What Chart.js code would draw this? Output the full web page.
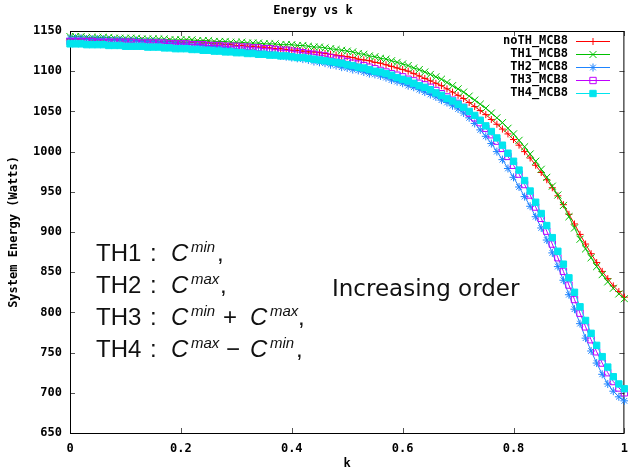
<!DOCTYPE html>
<html>
<head>
<meta charset="utf-8">
<script src="https://cdn.jsdelivr.net/npm/chart.js@4.4.1/dist/chart.umd.min.js"></script>
<style>
  html, body { margin: 0; padding: 0; background: #fff; }
  #wrap { width: 628px; height: 470px; }
</style>
</head>
<body>
<div id="wrap"><canvas id="chart" width="628" height="470"></canvas></div>
<script>
// k values (x axis)
const kValues = [0,0.01,0.02,0.03,0.04,0.05,0.06,0.07,0.08,0.09,
  0.1,0.11,0.12,0.13,0.14,0.15,0.16,0.17,0.18,0.19,
  0.2,0.21,0.22,0.23,0.24,0.25,0.26,0.27,0.28,0.29,
  0.3,0.31,0.32,0.33,0.34,0.35,0.36,0.37,0.38,0.39,
  0.4,0.41,0.42,0.43,0.44,0.45,0.46,0.47,0.48,0.49,
  0.5,0.51,0.52,0.53,0.54,0.55,0.56,0.57,0.58,0.59,
  0.6,0.61,0.62,0.63,0.64,0.65,0.66,0.67,0.68,0.69,
  0.7,0.71,0.72,0.73,0.74,0.75,0.76,0.77,0.78,0.79,
  0.8,0.81,0.82,0.83,0.84,0.85,0.86,0.87,0.88,0.89,
  0.9,0.91,0.92,0.93,0.94,0.95,0.96,0.97,0.98,0.99,1];

// system energy (Watts) per series
const noTH = [1140,1140,1140,1140,1139,1139,1139,1139,1139,1138,
  1138,1138,1138,1138,1137,1137,1137,1137,1137,1136,
  1136,1136,1136,1135,1135,1135,1134,1134,1133,1133,
  1132,1132,1131,1131,1130,1130,1129,1128,1128,1127,
  1126,1126,1125,1124,1124,1123,1122,1121,1120,1119,
  1118,1117,1115,1114,1113,1111,1110,1108,1106,1104,
  1102,1100,1097,1094,1091,1088,1085,1082,1078,1074,
  1070,1066,1061,1056,1051,1046,1040,1034,1028,1022,
  1015,1008,1000,992,983,974,965,955,945,934,
  922,910,897,885,873,862,851,842,833,826,819];
const th1 = [1143,1143,1143,1142,1142,1142,1142,1142,1141,1141,
  1141,1141,1141,1140,1140,1140,1140,1140,1139,1139,
  1139,1139,1139,1138,1138,1138,1137,1137,1137,1136,
  1136,1136,1135,1135,1135,1134,1134,1134,1133,1133,
  1133,1132,1132,1131,1130,1130,1129,1128,1127,1126,
  1125,1124,1122,1121,1119,1118,1116,1115,1113,1111,
  1109,1107,1104,1102,1099,1096,1093,1090,1086,1082,
  1078,1074,1069,1064,1059,1054,1048,1042,1036,1029,
  1022,1014,1006,997,988,978,968,957,946,933,
  919,905,891,879,868,857,847,838,830,823,817];
const th2 = [1141,1141,1141,1140,1140,1140,1140,1139,1139,1139,
  1138,1138,1138,1137,1137,1137,1136,1136,1135,1135,
  1134,1134,1133,1133,1132,1131,1131,1130,1129,1128,
  1127,1126,1126,1125,1124,1123,1122,1121,1119,1118,
  1117,1116,1115,1114,1112,1111,1110,1108,1107,1105,
  1104,1102,1101,1099,1097,1096,1094,1092,1089,1087,
  1085,1082,1080,1077,1074,1071,1068,1064,1061,1057,
  1053,1048,1042,1035,1027,1019,1010,1000,990,979,
  968,956,944,932,919,905,890,874,857,840,
  822,804,786,768,752,737,723,711,702,695,690];
const th3 = [1137,1137,1137,1137,1137,1136,1136,1136,1136,1136,
  1136,1136,1135,1135,1135,1135,1135,1135,1134,1134,
  1134,1134,1133,1133,1133,1132,1132,1132,1131,1131,
  1131,1130,1130,1129,1129,1128,1128,1127,1126,1126,
  1125,1124,1123,1122,1121,1120,1119,1117,1115,1114,
  1112,1110,1109,1107,1105,1103,1101,1099,1097,1095,
  1093,1090,1088,1085,1083,1080,1076,1072,1068,1064,
  1060,1055,1048,1042,1036,1029,1021,1013,1004,994,
  983,972,959,946,931,917,901,885,868,851,
  834,816,799,782,766,751,737,725,714,706,700];
const th4 = [1134,1134,1134,1133,1133,1133,1133,1132,1132,1132,
  1131,1131,1131,1131,1130,1130,1130,1129,1129,1128,
  1128,1128,1127,1127,1126,1126,1125,1125,1124,1124,
  1123,1123,1122,1122,1121,1121,1120,1120,1119,1119,
  1118,1117,1117,1116,1115,1114,1113,1112,1111,1110,
  1108,1107,1105,1104,1102,1100,1099,1097,1095,1092,
  1090,1088,1085,1082,1080,1077,1073,1070,1066,1063,
  1059,1055,1050,1045,1039,1032,1025,1017,1008,998,
  988,977,964,951,937,923,908,893,876,860,
  843,825,807,790,774,759,745,732,720,711,705];

const seriesLabels = ['noTH_MCB8', 'TH1_MCB8', 'TH2_MCB8', 'TH3_MCB8', 'TH4_MCB8'];
const xTicks = [0, 0.2, 0.4, 0.6, 0.8, 1];
const xTickLabels = ['0', '0.2', '0.4', '0.6', '0.8', '1'];
const yTicks = [650, 700, 750, 800, 850, 900, 950, 1000, 1050, 1100, 1150];
const yTickLabels = ['650', '700', '750', '800', '850', '900', '950', '1000', '1050', '1100', '1150'];

const MONO = "'DejaVu Sans Mono', monospace";
const toPoints = (ys) => ys.map((y, i) => ({ x: kValues[i], y }));

const styles = [
  { color: '#ff0000', pointStyle: 'cross',    radius: 3.5, fill: '#ff0000' },
  { color: '#00c000', pointStyle: 'crossRot', radius: 5,   fill: '#00c000' },
  { color: '#1e84ff', pointStyle: 'star',     radius: 4,   fill: '#1e84ff' },
  { color: '#c000ff', pointStyle: 'rect',     radius: 4.5, fill: 'rgba(0,0,0,0)' },
  { color: '#00e5ee', pointStyle: 'rect',     radius: 4.5, fill: '#00e5ee' },
];
const allSeries = [noTH, th1, th2, th3, th4];

// box + inward ticks on all sides, gnuplot style
const framePlugin = {
  id: 'frame',
  beforeDatasetsDraw(chart) {
    const { ctx, chartArea: a, scales } = chart;
    ctx.save();
    ctx.strokeStyle = '#555';
    ctx.lineWidth = 1;
    ctx.beginPath();
    xTicks.forEach(v => {
      const x = Math.round(scales.x.getPixelForValue(v)) + 0.5;
      ctx.moveTo(x, a.bottom); ctx.lineTo(x, a.bottom - 5);
      ctx.moveTo(x, a.top); ctx.lineTo(x, a.top + 5);
    });
    yTicks.forEach(v => {
      const y = Math.round(scales.y.getPixelForValue(v)) + 0.5;
      ctx.moveTo(a.left, y); ctx.lineTo(a.left + 5, y);
      ctx.moveTo(a.right, y); ctx.lineTo(a.right - 5, y);
    });
    ctx.stroke();
    ctx.strokeStyle = '#000';
    ctx.strokeRect(a.left + 0.5, a.top + 0.5, a.right - a.left - 1, a.bottom - a.top);
    ctx.restore();
  }
};

// legend inside the plot, text left of the sample
const keyPlugin = {
  id: 'key',
  afterDatasetsDraw(chart) {
    const { ctx } = chart;
    ctx.save();
    ctx.font = 'bold 12px ' + MONO;
    ctx.textAlign = 'right';
    ctx.textBaseline = 'middle';
    chart.data.datasets.forEach((ds, i) => {
      const y = 41 + i * 13;
      ctx.fillStyle = '#000';
      ctx.fillText(ds.label, 568, y);
      ctx.strokeStyle = ds.borderColor;
      ctx.lineWidth = 1;
      ctx.beginPath();
      ctx.moveTo(576, y + 0.5); ctx.lineTo(610, y + 0.5);
      ctx.stroke();
      ctx.fillStyle = ds.pointBackgroundColor;
      Chart.helpers.drawPoint(ctx, { pointStyle: ds.pointStyle, radius: ds.pointRadius, rotation: 0, borderWidth: 1 }, 593, y + 0.5);
    });
    ctx.restore();
  }
};

// pasted annotation
const noteRows = [
  [['TH1', 96], [':', 150], ['C', 171, 'i'], ['min', 191, 's'], [',', 217]],
  [['TH2', 96], [':', 150], ['C', 171, 'i'], ['max', 191, 's'], [',', 220]],
  [['TH3', 96], [':', 150], ['C', 171, 'i'], ['min', 191, 's'], ['+', 223], ['C', 250, 'i'], ['max', 270, 's'], [',', 298]],
  [['TH4', 96], [':', 150], ['C', 171, 'i'], ['max', 191, 's'], ['\u2212', 226], ['C', 250, 'i'], ['min', 270, 's'], [',', 296]],
];
const notePlugin = {
  id: 'note',
  afterDatasetsDraw(chart) {
    const { ctx } = chart;
    ctx.save();
    ctx.fillStyle = '#111';
    ctx.textAlign = 'left';
    ctx.textBaseline = 'alphabetic';
    noteRows.forEach((row, r) => {
      const base = 261 + r * 32;
      row.forEach(([t, x, kind]) => {
        if (kind === 'i') ctx.font = "italic 24px 'Liberation Sans', sans-serif";
        else if (kind === 's') ctx.font = "italic 15px 'Liberation Sans', sans-serif";
        else ctx.font = "24px 'Liberation Sans', sans-serif";
        ctx.fillText(t, x, kind === 's' ? base - 9 : base);
      });
    });
    ctx.font = "23px 'DejaVu Sans', sans-serif";
    ctx.fillText('Increasing order', 332, 296);
    ctx.restore();
  }
};

new Chart(document.getElementById('chart').getContext('2d'), {
  type: 'line',
  data: {
    datasets: allSeries.map((ys, i) => ({
      label: seriesLabels[i],
      data: toPoints(ys),
      borderColor: styles[i].color,
      backgroundColor: styles[i].color,
      pointBackgroundColor: styles[i].fill,
      pointBorderColor: styles[i].color,
      pointStyle: styles[i].pointStyle,
      pointRadius: styles[i].radius,
      pointBorderWidth: 1,
      borderWidth: 1,
      tension: 0,
      clip: false,
      order: allSeries.length - 1 - i, // later series on top, like gnuplot
    })),
  },
  options: {
    responsive: false,
    animation: false,
    events: [],
    layout: { autoPadding: false, padding: { left: 0, right: 2, top: 0, bottom: 0 } },
    plugins: {
      legend: { display: false },
      tooltip: { enabled: false },
      title: {
        display: true,
        text: 'Energy vs k',
        color: '#000',
        font: { family: MONO, size: 12, weight: 'bold' },
        padding: { top: 4, bottom: 12.6 },
      },
    },
    scales: {
      x: {
        type: 'linear',
        min: 0,
        max: 1,
        afterBuildTicks: (s) => { s.ticks = xTicks.map(v => ({ value: v })); },
        afterFit: (s) => { s.height = 37; },
        grid: { display: false, drawTicks: true, tickLength: 9 },
        border: { display: false },
        ticks: {
          color: '#000',
          padding: 0,
          maxRotation: 0,
          font: { family: MONO, size: 12, weight: 'bold' },
          callback: (v, i) => xTickLabels[i],
        },
        title: {
          display: true,
          text: 'k',
          color: '#000',
          font: { family: MONO, size: 12, weight: 'bold' },
          padding: { top: 0, bottom: -1 },
        },
      },
      y: {
        type: 'linear',
        min: 650,
        max: 1150,
        afterBuildTicks: (s) => { s.ticks = yTicks.map(v => ({ value: v })); },
        afterFit: (s) => { s.width = 70; },
        grid: { display: false, drawTicks: true, tickLength: 8 },
        border: { display: false },
        ticks: {
          color: '#000',
          padding: 0,
          font: { family: MONO, size: 12, weight: 'bold' },
          callback: (v, i) => yTickLabels[i],
        },
        title: {
          display: true,
          text: 'System Energy (Watts)',
          color: '#000',
          font: { family: MONO, size: 12, weight: 'bold' },
          padding: { top: 7, bottom: 0 },
        },
      },
    },
  },
  plugins: [framePlugin, keyPlugin, notePlugin],
});
</script>
</body>
</html>
